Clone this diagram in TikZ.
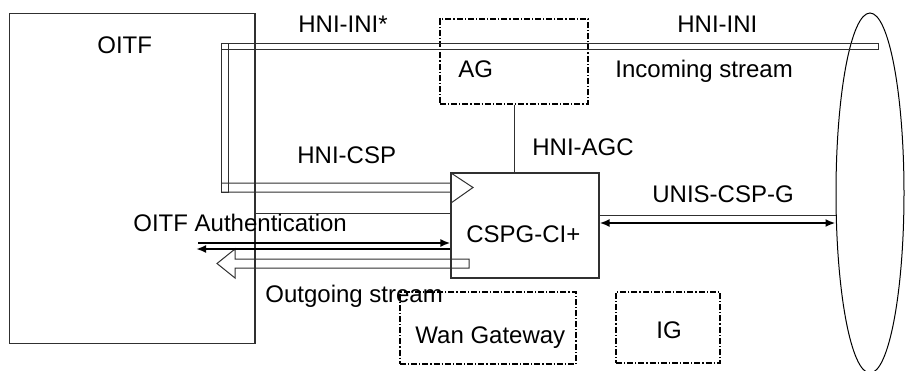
\documentclass[tikz,border=0pt]{standalone}
\usepackage{fontspec}
\setmainfont{Liberation Sans}
\usetikzlibrary{arrows.meta,positioning,shapes.geometric}
\definecolor{linegray}{HTML}{303030}

\begin{document}
\begin{tikzpicture}[x=0.5pt,y=-0.5pt,>={Latex[length=5pt,width=4pt]},font=\fontsize{12}{14}\selectfont]

\tikzset{
box/.style={
    draw=linegray,
    line width=0.55pt,
    inner sep=0pt
},
gw/.style={box,line width=0.7pt,draw=black,dash pattern=on 3pt off 1pt on 0.6pt off 1pt},
lbl/.style={anchor=base west,inner sep=0pt},
pipe/.style={draw=linegray,line width=0.5pt},
sig/.style={line width=1pt,color=black}
}

\useasboundingbox (0,0) rectangle (906,370);

% boxes
\node[box,minimum width=122.75pt,minimum height=165pt] (oitf) at (132.25,178.5) {};
\node[gw,minimum width=74pt,minimum height=42.5pt] (ag) at (514,61.5) {};
\node[box,minimum width=74pt,minimum height=52.5pt] (cspg) at (525,225.5) {};
\node[gw,minimum width=88pt,minimum height=36pt] (wan) at (488,328) {};
\node[gw,minimum width=52pt,minimum height=35.5pt] (ig) at (668,327.5) {};
\node[draw,ellipse,line width=0.5pt,minimum width=34pt,minimum height=180pt,inner sep=0pt] (net) at (870,193) {};

\node[lbl] (oitftxt) at (97,53) {OITF};
\node[lbl] (agtxt) at (458,77) {AG};
\node[lbl] (cspgtxt) at (466,242) {CSPG-CI+};
\node[lbl] (wantxt) at (415,343) {Wan Gateway};
\node[lbl] (igtxt) at (656,338) {IG};

% stream pipes
\draw[pipe] (221,43) rectangle (878,49);
\draw[pipe] (221,43) rectangle (228,192);
\draw[pipe] (221,183) -- (451,183) -- (451,173) -- (473,187.5) -- (451,203) -- (451,192) -- (221,192);
\draw[pipe] (469,259) -- (235,259) -- (235,249) -- (217,263.5) -- (235,278) -- (235,268) -- (469,268) -- cycle;

% links
\draw[pipe] (ag.south) -- (ag.south |- cspg.north);
\draw[pipe] (oitf.east |- 0,213) -- (cspg.west |- 0,213);
\draw[pipe] (cspg.east |- 0,215) -- (net.west |- 0,215);

\coordinate (authin) at (198,243);
\coordinate (authout) at (196,249);
\draw[sig,->] (authin) -- (cspg.west |- authin);
\draw[sig,->] (cspg.west |- authout) -- (authout);
\draw[sig,<->] (cspg.east |- 0,223) -- (net.west |- 0,223);

% labels
\node[lbl] (inistar) at (298,32) {HNI-INI*};
\node[lbl] (ini) at (677,32) {HNI-INI};
\node[lbl] (incoming) at (615,77) {Incoming stream};
\node[lbl] (agc) at (532,155) {HNI-AGC};
\node[lbl] (csp) at (297,163) {HNI-CSP};
\node[lbl] (unis) at (652,202) {UNIS-CSP-G};
\node[lbl] (auth) at (133,231) {OITF Authentication};
\node[lbl] (outgoing) at (265,302) {Outgoing stream};

\end{tikzpicture}
\end{document}
